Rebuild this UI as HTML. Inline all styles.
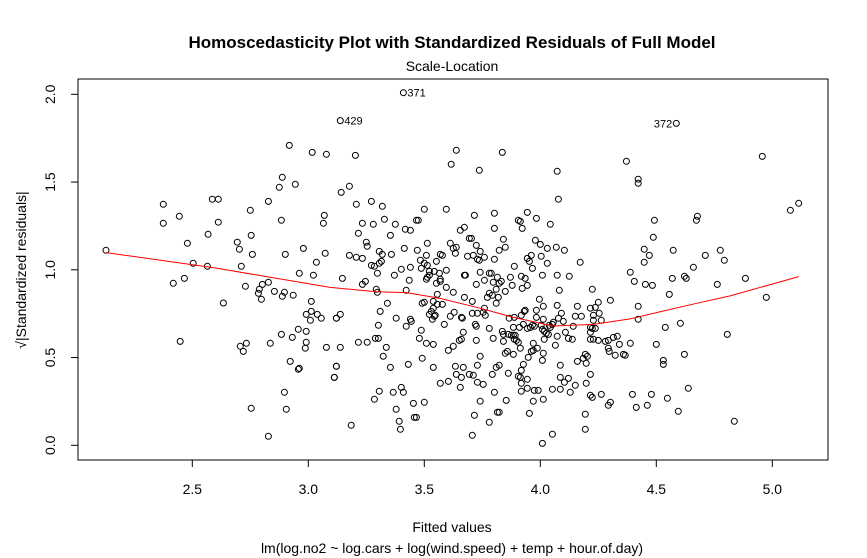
<!DOCTYPE html>
<html><head><meta charset="utf-8"><title>Scale-Location</title>
<style>
html,body{margin:0;padding:0;background:#fff;}
svg{display:block;font-family:"Liberation Sans",Arial,sans-serif;}
</style></head>
<body>
<svg id="chart" width="867" height="558" viewBox="0 0 867 558" xmlns="http://www.w3.org/2000/svg">
<rect x="0" y="0" width="867" height="558" fill="#fff"/>
<text x="452" y="48" text-anchor="middle" font-size="17" font-weight="bold">Homoscedasticity Plot with Standardized Residuals of Full Model</text>
<text x="452" y="71" text-anchor="middle" font-size="14">Scale-Location</text>
<rect x="78" y="79" width="750" height="381" fill="none" stroke="#000" stroke-width="1"/>
<g id="xaxis"></g>
<g id="yaxis"></g>
<text x="452" y="532" text-anchor="middle" font-size="14">Fitted values</text>
<text x="452" y="553" text-anchor="middle" font-size="14">lm(log.no2 ~ log.cars + log(wind.speed) + temp + hour.of.day)</text>
<text transform="translate(26,270) rotate(-90)" text-anchor="middle" font-size="14">√|Standardized residuals|</text>
<g id="points"></g>
<g id="labels"></g>
</svg>
<script>
const xTicks=[2.5,3.0,3.5,4.0,4.5,5.0];
const xTickLabels=["2.5","3.0","3.5","4.0","4.5","5.0"];
const yTicks=[0,0.5,1.0,1.5,2.0];
const yTickLabels=["0.0","0.5","1.0","1.5","2.0"];
const fitted=[2.128,2.375,2.375,2.444,2.479,2.504,2.565,2.418,2.466,2.634,2.448,2.586,2.612,2.612,2.568,2.750,2.828,2.918,3.017,3.078,2.888,2.875,2.944,2.884,3.069,3.065,2.754,2.694,2.703,2.759,2.711,2.901,2.979,3.073,3.035,2.961,3.022,2.828,2.802,2.789,2.785,2.798,2.729,2.854,2.897,2.888,2.935,3.013,3.013,2.991,3.039,3.056,3.009,3.121,2.957,2.991,2.884,2.931,2.733,2.707,2.720,2.836,2.991,2.987,3.078,2.922,2.957,2.961,3.121,3.112,2.897,2.754,2.905,2.828,
3.410,3.138,3.203,3.638,3.616,3.737,3.177,3.142,3.207,3.272,3.319,3.500,3.595,3.716,3.328,3.233,3.280,3.375,3.466,3.474,3.418,3.440,3.216,3.354,3.655,3.673,3.694,3.703,3.250,3.254,3.513,3.612,3.625,3.638,3.724,3.414,3.470,3.306,3.319,3.177,3.207,3.233,3.358,3.509,3.569,3.578,3.634,3.686,3.711,3.729,3.737,3.759,3.741,3.315,3.306,3.272,3.285,3.440,3.401,3.483,3.500,3.513,3.552,3.487,3.522,3.543,3.565,3.595,3.673,3.677,3.741,3.780,3.298,3.371,3.147,3.435,3.513,3.522,3.509,3.569,3.569,3.552,3.724,3.759,3.233,3.246,3.293,3.298,3.422,3.595,3.625,3.556,3.673,3.707,3.772,3.780,3.341,3.491,3.500,3.539,3.556,3.578,3.539,3.530,3.522,3.547,3.543,3.535,3.310,3.121,3.138,3.379,3.440,3.444,3.422,3.612,3.629,3.660,3.664,3.707,3.729,3.759,3.763,3.754,3.586,3.720,3.724,3.780,3.302,3.487,3.668,3.289,3.302,3.479,3.660,3.651,3.724,3.216,3.254,3.509,3.539,3.138,3.336,3.625,3.604,3.323,3.491,3.741,3.431,3.354,3.539,3.634,3.668,3.729,3.121,3.112,3.638,3.660,3.694,3.711,3.604,3.569,3.655,3.729,3.754,3.306,3.401,3.366,3.410,3.285,3.453,3.500,3.741,3.379,3.457,3.466,3.716,3.780,3.392,3.397,3.185,3.707,
3.836,4.073,4.078,4.371,4.422,4.422,3.802,3.944,3.983,3.905,3.914,3.922,3.802,4.043,3.841,3.849,3.823,3.979,4.000,4.030,4.069,4.104,3.961,3.944,3.953,4.004,4.030,3.802,4.172,3.888,3.966,3.789,3.815,3.871,3.918,3.935,4.009,4.073,4.125,4.388,4.405,3.797,3.832,3.823,3.879,3.944,3.922,3.810,3.849,4.082,4.224,3.793,3.819,3.810,3.996,4.073,4.160,4.250,4.302,4.422,4.013,3.983,3.935,3.931,4.091,4.216,4.237,4.254,4.151,4.177,4.229,3.866,3.888,3.918,3.983,4.013,4.078,4.099,4.229,4.263,4.422,4.056,4.052,3.927,3.966,3.957,3.974,4.004,4.009,4.039,4.043,3.910,3.944,3.884,4.142,4.216,4.224,4.237,4.017,4.026,4.035,4.108,4.216,3.836,3.841,3.862,3.875,3.884,3.892,3.888,3.905,3.897,3.797,3.841,4.073,4.017,4.121,4.138,4.216,4.229,4.250,4.280,4.293,4.315,4.332,4.341,4.388,3.970,4.065,3.914,4.293,4.297,4.323,4.358,4.366,3.961,3.970,3.987,3.849,3.858,3.884,4.013,3.948,4.009,4.194,4.203,4.185,4.160,4.198,3.927,4.086,3.810,3.823,3.918,3.793,3.862,4.216,3.905,3.914,4.086,4.121,3.944,3.918,4.104,4.151,4.198,3.944,3.974,3.991,4.052,4.086,4.129,3.918,3.802,4.216,4.224,4.263,4.397,4.013,3.970,3.853,4.302,4.293,4.414,3.815,3.823,3.953,4.194,4.194,4.052,4.009,
4.586,4.957,5.078,5.114,4.492,4.677,4.673,4.487,4.448,4.470,4.448,4.573,4.711,4.776,4.793,4.660,4.621,4.629,4.569,4.884,4.453,4.483,4.763,4.556,4.974,4.604,4.539,4.806,4.500,4.621,4.530,4.530,4.638,4.479,4.548,4.461,4.595,4.836];
const sqrtStdRes=[1.111,1.373,1.265,1.305,1.151,1.037,1.020,0.923,0.951,0.811,0.592,1.402,1.402,1.271,1.202,1.339,1.390,1.709,1.669,1.658,1.527,1.470,1.487,1.282,1.310,1.265,1.196,1.157,1.117,1.088,1.020,1.088,1.122,1.094,1.043,0.980,0.969,0.929,0.917,0.889,0.866,0.832,0.906,0.877,0.872,0.849,0.855,0.820,0.763,0.746,0.746,0.724,0.712,0.724,0.661,0.649,0.632,0.615,0.581,0.564,0.535,0.581,0.587,0.553,0.558,0.478,0.433,0.439,0.450,0.387,0.302,0.211,0.205,0.051,
2.009,1.850,1.652,1.681,1.601,1.567,1.476,1.441,1.373,1.390,1.362,1.345,1.345,1.310,1.288,1.265,1.259,1.259,1.282,1.282,1.231,1.225,1.208,1.196,1.225,1.242,1.179,1.179,1.157,1.134,1.151,1.151,1.122,1.128,1.139,1.122,1.111,1.105,1.088,1.082,1.071,1.065,1.088,1.082,1.088,1.082,1.094,1.077,1.082,1.060,1.054,1.071,1.105,1.048,1.037,1.025,1.020,1.014,1.003,1.054,1.037,1.025,1.048,1.008,0.991,0.991,0.980,0.997,0.969,0.969,0.986,0.980,0.980,0.969,0.951,0.940,0.957,0.969,0.946,0.946,0.934,0.923,0.917,0.940,0.917,0.934,0.889,0.872,0.883,0.900,0.872,0.860,0.843,0.820,0.843,0.866,0.809,0.809,0.815,0.820,0.803,0.803,0.781,0.763,0.746,0.741,0.735,0.718,0.763,0.724,0.746,0.724,0.718,0.706,0.678,0.735,0.758,0.729,0.724,0.752,0.752,0.781,0.741,0.758,0.689,0.689,0.678,0.666,0.684,0.655,0.644,0.609,0.609,0.609,0.604,0.598,0.598,0.587,0.587,0.581,0.575,0.558,0.558,0.564,0.541,0.507,0.496,0.507,0.461,0.444,0.444,0.450,0.444,0.456,0.450,0.387,0.404,0.387,0.404,0.399,0.364,0.353,0.330,0.359,0.347,0.308,0.330,0.302,0.302,0.262,0.239,0.245,0.251,0.205,0.159,0.159,0.171,0.131,0.137,0.091,0.114,0.057,
1.669,1.561,1.402,1.618,1.516,1.493,1.322,1.327,1.293,1.282,1.276,1.236,1.236,1.259,1.174,1.128,1.111,1.168,1.145,1.122,1.128,1.111,1.082,1.065,1.048,1.077,1.037,1.060,1.043,1.020,1.008,0.980,0.957,0.957,0.963,0.951,0.969,0.969,0.963,0.986,0.934,0.929,0.934,0.923,0.911,0.911,0.894,0.889,0.877,0.883,0.889,0.855,0.843,0.809,0.832,0.797,0.792,0.815,0.826,0.792,0.792,0.769,0.769,0.763,0.752,0.781,0.786,0.752,0.735,0.735,0.741,0.724,0.729,0.741,0.729,0.718,0.724,0.706,0.712,0.712,0.718,0.701,0.689,0.689,0.684,0.672,0.678,0.684,0.661,0.684,0.672,0.672,0.666,0.672,0.678,0.672,0.666,0.666,0.649,0.638,0.632,0.644,0.644,0.649,0.632,0.632,0.627,0.627,0.627,0.604,0.587,0.598,0.609,0.592,0.621,0.604,0.609,0.604,0.604,0.604,0.598,0.592,0.598,0.615,0.621,0.575,0.581,0.581,0.570,0.553,0.553,0.535,0.513,0.518,0.513,0.535,0.541,0.553,0.524,0.535,0.518,0.524,0.501,0.484,0.518,0.507,0.496,0.478,0.467,0.461,0.456,0.444,0.456,0.427,0.404,0.410,0.404,0.393,0.387,0.387,0.381,0.376,0.353,0.359,0.342,0.353,0.325,0.313,0.313,0.319,0.319,0.302,0.308,0.302,0.285,0.273,0.290,0.290,0.262,0.251,0.256,0.245,0.228,0.216,0.188,0.188,0.182,0.177,0.091,0.063,0.011,
1.834,1.646,1.339,1.379,1.282,1.305,1.282,1.185,1.117,1.082,1.043,1.111,1.082,1.111,1.054,1.014,0.963,0.951,0.951,0.951,0.917,0.911,0.917,0.860,0.843,0.695,0.672,0.632,0.575,0.518,0.484,0.461,0.325,0.290,0.268,0.228,0.194,0.137];
const smoothX=[2.128,2.600,3.094,3.295,3.424,3.568,3.740,3.884,4.056,4.229,4.387,4.530,4.674,4.818,5.114];
const smoothY=[1.098,1.010,0.900,0.875,0.870,0.837,0.781,0.729,0.680,0.689,0.720,0.765,0.809,0.851,0.961];
const outlierIds=["371","429","372"];
const outlierX=[3.410,3.138,4.586];
const outlierY=[2.009,1.850,1.834];
const outlierSide=["right","right","left"];

const NS="http://www.w3.org/2000/svg";
function sx(v){return 192.3+(v-2.5)*232;}
function sy(v){return 445.3-v*175.5;}
function mk(tag,attrs,parent){const e=document.createElementNS(NS,tag);for(const k in attrs)e.setAttribute(k,attrs[k]);parent.appendChild(e);return e;}

const xa=document.getElementById('xaxis');
mk('line',{x1:sx(xTicks[0]),x2:sx(xTicks[xTicks.length-1]),y1:460,y2:460,stroke:'#000'},xa);
xTicks.forEach((t,i)=>{
  const l=mk('line',{x1:sx(t),x2:sx(t),y1:460,y2:467,stroke:'#000'},xa);
  
  
  const tx=mk('text',{x:sx(t),y:494,'text-anchor':'middle','font-size':14},xa);
  tx.textContent=xTickLabels[i];
  
  
});
const ya=document.getElementById('yaxis');
mk('line',{x1:78,x2:78,y1:sy(yTicks[0]),y2:sy(yTicks[yTicks.length-1]),stroke:'#000'},ya);
yTicks.forEach((t,i)=>{
  const l=mk('line',{x1:71,x2:78,y1:sy(t),y2:sy(t),stroke:'#000'},ya);
  
  
  const tx=mk('text',{x:0,y:0,'text-anchor':'middle','font-size':14,transform:'translate(55,'+sy(t)+') rotate(-90)'},ya);
  tx.textContent=yTickLabels[i];
  
  
});

const pg=document.getElementById('points');
for(let i=0;i<fitted.length;i++){
  const c=mk('circle',{cx:sx(fitted[i]).toFixed(1),cy:sy(sqrtStdRes[i]).toFixed(1),r:3,fill:'none',stroke:'#000','stroke-width':1},pg);
  
  
}
let d='';
smoothX.forEach((v,i)=>{d+=(i?'L':'M')+sx(v).toFixed(1)+','+sy(smoothY[i]).toFixed(1);});
const sm=mk('path',{d:d,fill:'none',stroke:'#ff0000','stroke-width':1},pg);



const lg=document.getElementById('labels');
outlierIds.forEach((id,i)=>{
  const right=outlierSide[i]==='right';
  const t=mk('text',{x:sx(outlierX[i])+(right?4:-4),y:sy(outlierY[i])+4,'text-anchor':right?'start':'end','font-size':11},lg);
  t.textContent=id;
  
  
});
</script>
</body></html>
